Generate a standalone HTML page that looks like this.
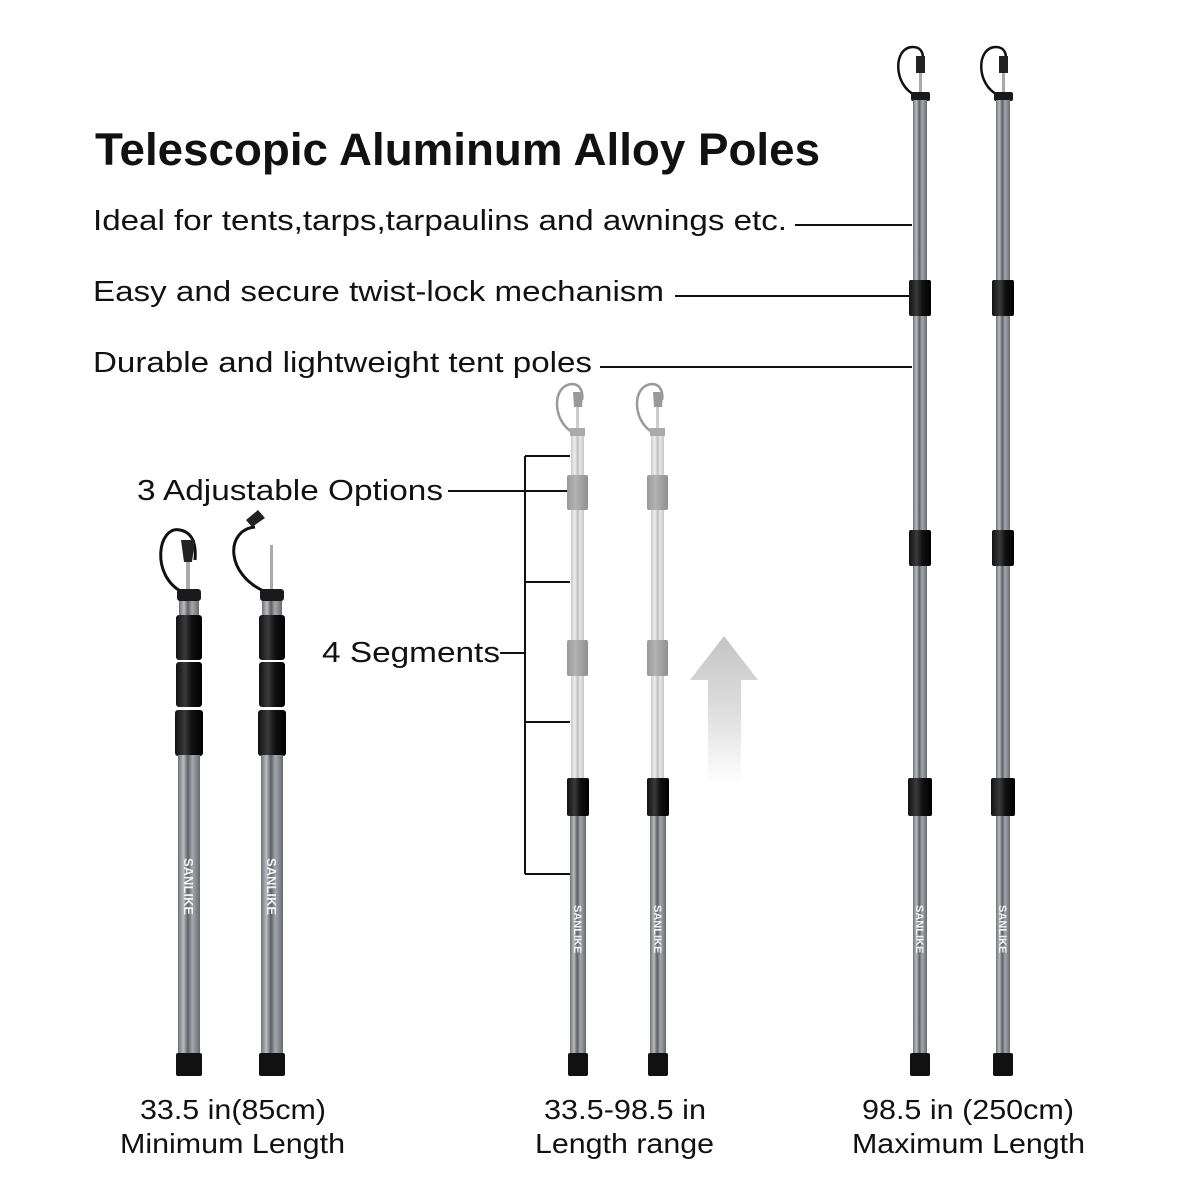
<!DOCTYPE html>
<html><head><meta charset="utf-8"><style>
html,body{margin:0;padding:0;background:#fff;}
svg{display:block;}
text{font-family:"Liberation Sans",sans-serif;fill:#111;}
</style></head><body>
<svg width="1200" height="1200" viewBox="0 0 1200 1200" xmlns="http://www.w3.org/2000/svg">
<defs>
<linearGradient id="tube" x1="0" x2="1" y1="0" y2="0">
<stop offset="0" stop-color="#6f7378"/><stop offset="0.25" stop-color="#b9bdc1"/><stop offset="0.45" stop-color="#5c6065"/><stop offset="0.65" stop-color="#a4a8ad"/><stop offset="1" stop-color="#676b70"/></linearGradient>
<linearGradient id="tubeL" x1="0" x2="1" y1="0" y2="0">
<stop offset="0" stop-color="#c8cacc"/><stop offset="0.3" stop-color="#eeeeee"/><stop offset="0.5" stop-color="#bfc1c3"/><stop offset="0.7" stop-color="#e6e6e6"/><stop offset="1" stop-color="#c4c6c8"/></linearGradient>
<linearGradient id="knob" x1="0" x2="1" y1="0" y2="0">
<stop offset="0" stop-color="#111"/><stop offset="0.35" stop-color="#3a3a3a"/><stop offset="0.6" stop-color="#111"/><stop offset="1" stop-color="#000"/></linearGradient>
<linearGradient id="knobL" x1="0" x2="1" y1="0" y2="0">
<stop offset="0" stop-color="#999"/><stop offset="0.4" stop-color="#b3b3b3"/><stop offset="1" stop-color="#8f8f8f"/></linearGradient>
<linearGradient id="arr" x1="0" x2="0" y1="0" y2="1">
<stop offset="0" stop-color="#c4c4c4"/><stop offset="0.5" stop-color="#dedede"/><stop offset="1" stop-color="#fff"/></linearGradient>
</defs>

<text x="95" y="165" font-size="45" font-weight="bold" textLength="725" lengthAdjust="spacingAndGlyphs">Telescopic Aluminum Alloy Poles</text>
<text x="93" y="230" font-size="29" textLength="694" lengthAdjust="spacingAndGlyphs">Ideal for tents,tarps,tarpaulins and awnings etc.</text>
<text x="93" y="301" font-size="29" textLength="571" lengthAdjust="spacingAndGlyphs">Easy and secure twist-lock mechanism</text>
<text x="93" y="372" font-size="29" textLength="499" lengthAdjust="spacingAndGlyphs">Durable and lightweight tent poles</text>
<text x="137" y="500" font-size="29" textLength="306" lengthAdjust="spacingAndGlyphs">3 Adjustable Options</text>
<text x="322" y="662" font-size="29" textLength="178" lengthAdjust="spacingAndGlyphs">4 Segments</text>

<g stroke="#111" stroke-width="2" fill="none">
<line x1="795" y1="225" x2="912" y2="225"/>
<line x1="675" y1="296" x2="910" y2="296"/>
<line x1="600" y1="367" x2="912" y2="367"/>
<line x1="448" y1="491" x2="567" y2="491"/>
<line x1="500" y1="653" x2="525" y2="653"/>
<line x1="525" y1="456" x2="525" y2="874"/>
<line x1="525" y1="456" x2="570" y2="456"/>
<line x1="525" y1="582" x2="570" y2="582"/>
<line x1="525" y1="722" x2="570" y2="722"/>
<line x1="525" y1="874" x2="570" y2="874"/>
</g>

<path d="M724,636 L758,680 L741,680 L741,785 L708,785 L708,680 L690,680 Z" fill="url(#arr)"/>

<g>
<path d="M182,592 C150,575 158,525 180,530 C195,533 196,548 195,560" stroke="#111" stroke-width="3" fill="none"/>
<rect x="186" y="560" width="4" height="32" fill="#aaa"/>
<path d="M184,562 L192,562 L195,540 L181,540 Z" fill="#222"/>
<rect x="177" y="589" width="24" height="12" rx="3" fill="#1a1a1a"/>
<rect x="179" y="601" width="20" height="16" fill="url(#tube)"/>
<rect x="176" y="615" width="26" height="45" rx="3" fill="url(#knob)"/>
<rect x="176" y="662" width="26" height="45" rx="3" fill="url(#knob)"/>
<rect x="175" y="710" width="28" height="46" rx="3" fill="url(#knob)"/>
<rect x="178" y="755" width="22" height="300" fill="url(#tube)"/>
<rect x="176" y="1053" width="26" height="23" rx="2" fill="#111"/>
<text transform="translate(184,858) rotate(90)" font-size="13" font-weight="bold" style="fill:#f2f2f2">SANLIKE</text>
</g>
<g>
<path d="M266,592 C225,575 225,530 255,527" stroke="#111" stroke-width="3" fill="none"/>
<path d="M252,527 L265,518 L258,510 L246,520 Z" fill="#222"/>
<rect x="270" y="545" width="3" height="47" fill="#aaa"/>
<rect x="260" y="589" width="24" height="12" rx="3" fill="#1a1a1a"/>
<rect x="262" y="601" width="20" height="16" fill="url(#tube)"/>
<rect x="259" y="615" width="26" height="45" rx="3" fill="url(#knob)"/>
<rect x="259" y="662" width="26" height="45" rx="3" fill="url(#knob)"/>
<rect x="258" y="710" width="28" height="46" rx="3" fill="url(#knob)"/>
<rect x="261" y="755" width="22" height="300" fill="url(#tube)"/>
<rect x="259" y="1053" width="26" height="23" rx="2" fill="#111"/>
<text transform="translate(267,858) rotate(90)" font-size="13" font-weight="bold" style="fill:#f2f2f2">SANLIKE</text>
</g>

<g>
<path d="M572,432 C552,420 552,385 572,384 C582,384 583,395 582,400" stroke="#999" stroke-width="2.5" fill="none"/>
<rect x="576" y="405" width="3" height="25" fill="#ccc"/>
<path d="M574,407 L582,407 L583,392 L573,392 Z" fill="#999"/>
<rect x="570" y="428" width="15" height="8" fill="#aaa"/>
<rect x="571" y="436" width="13" height="540" fill="url(#tubeL)"/>
<rect x="567" y="475" width="21" height="35" rx="2" fill="url(#knobL)"/>
<rect x="567" y="640" width="21" height="36" rx="2" fill="url(#knobL)"/>
<rect x="570" y="812" width="16" height="243" fill="url(#tube)"/>
<rect x="567" y="778" width="22" height="38" rx="2" fill="url(#knob)"/>
<rect x="568" y="1053" width="20" height="23" rx="2" fill="#111"/>
<text transform="translate(574,905) rotate(90)" font-size="11" font-weight="bold" style="fill:#f2f2f2">SANLIKE</text>
</g>
<g>
<path d="M652,432 C632,420 632,385 652,384 C662,384 663,395 662,400" stroke="#999" stroke-width="2.5" fill="none"/>
<rect x="656" y="405" width="3" height="25" fill="#ccc"/>
<path d="M654,407 L662,407 L663,392 L653,392 Z" fill="#999"/>
<rect x="650" y="428" width="15" height="8" fill="#aaa"/>
<rect x="651" y="436" width="13" height="540" fill="url(#tubeL)"/>
<rect x="647" y="475" width="21" height="35" rx="2" fill="url(#knobL)"/>
<rect x="647" y="640" width="21" height="36" rx="2" fill="url(#knobL)"/>
<rect x="650" y="812" width="16" height="243" fill="url(#tube)"/>
<rect x="647" y="778" width="22" height="38" rx="2" fill="url(#knob)"/>
<rect x="648" y="1053" width="20" height="23" rx="2" fill="#111"/>
<text transform="translate(654,905) rotate(90)" font-size="11" font-weight="bold" style="fill:#f2f2f2">SANLIKE</text>
</g>

<g>
<path d="M915,95 C893,85 893,47 913,47 C922,47 924,55 922,60" stroke="#111" stroke-width="2.5" fill="none"/>
<rect x="919" y="70" width="3" height="24" fill="#aaa"/>
<path d="M916,73 L925,73 L925,56 L916,56 Z" fill="#222"/>
<rect x="911" y="92" width="19" height="9" rx="2" fill="#1a1a1a"/>
<rect x="913" y="100" width="14" height="956" fill="url(#tube)"/>
<rect x="909" y="280" width="22" height="36" rx="2" fill="url(#knob)"/>
<rect x="909" y="530" width="22" height="36" rx="2" fill="url(#knob)"/>
<rect x="908" y="778" width="24" height="38" rx="2" fill="url(#knob)"/>
<rect x="910" y="1053" width="20" height="23" rx="2" fill="#111"/>
<text transform="translate(916,905) rotate(90)" font-size="11" font-weight="bold" style="fill:#f2f2f2">SANLIKE</text>
</g>
<g>
<path d="M998,95 C976,85 976,47 996,47 C1005,47 1007,55 1005,60" stroke="#111" stroke-width="2.5" fill="none"/>
<rect x="1002" y="70" width="3" height="24" fill="#aaa"/>
<path d="M999,73 L1008,73 L1008,56 L999,56 Z" fill="#222"/>
<rect x="994" y="92" width="19" height="9" rx="2" fill="#1a1a1a"/>
<rect x="996" y="100" width="14" height="956" fill="url(#tube)"/>
<rect x="992" y="280" width="22" height="36" rx="2" fill="url(#knob)"/>
<rect x="992" y="530" width="22" height="36" rx="2" fill="url(#knob)"/>
<rect x="991" y="778" width="24" height="38" rx="2" fill="url(#knob)"/>
<rect x="993" y="1053" width="20" height="23" rx="2" fill="#111"/>
<text transform="translate(999,905) rotate(90)" font-size="11" font-weight="bold" style="fill:#f2f2f2">SANLIKE</text>
</g>

<g font-size="28">
<text x="140" y="1119" textLength="186" lengthAdjust="spacingAndGlyphs">33.5 in(85cm)</text>
<text x="120" y="1153" textLength="225" lengthAdjust="spacingAndGlyphs">Minimum Length</text>
<text x="544" y="1119" textLength="162" lengthAdjust="spacingAndGlyphs">33.5-98.5 in</text>
<text x="535" y="1153" textLength="179" lengthAdjust="spacingAndGlyphs">Length range</text>
<text x="862" y="1119" textLength="212" lengthAdjust="spacingAndGlyphs">98.5 in (250cm)</text>
<text x="852" y="1153" textLength="233" lengthAdjust="spacingAndGlyphs">Maximum Length</text>
</g>
</svg>
</body></html>
